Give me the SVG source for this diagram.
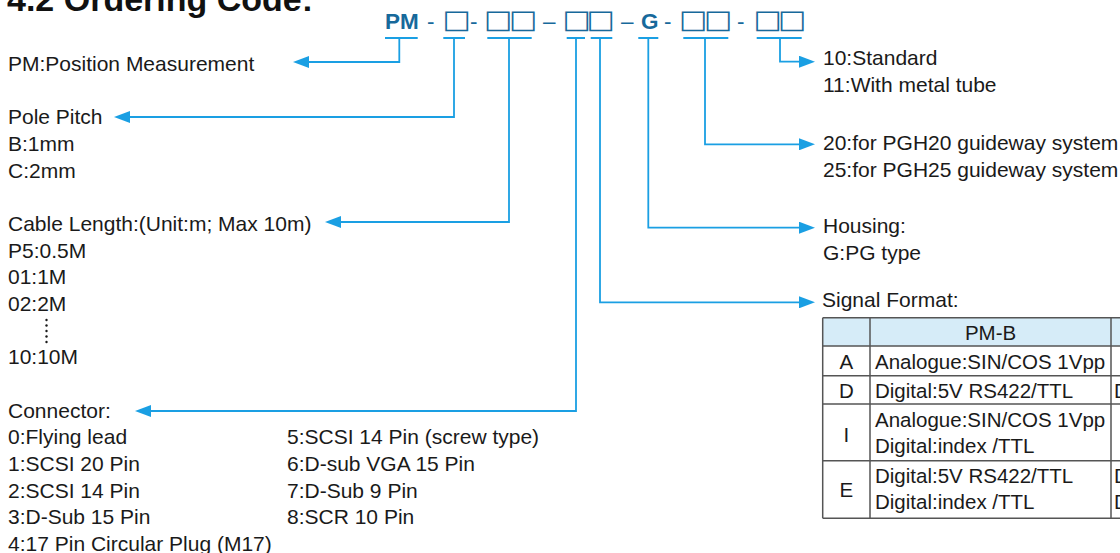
<svg xmlns="http://www.w3.org/2000/svg" width="1120" height="553" viewBox="0 0 1120 553">
<style>
.t{font-family:"Liberation Sans",Arial,sans-serif;font-size:21px;fill:#1a1a1a}
.tt{font-family:"Liberation Sans",Arial,sans-serif;font-size:20.5px;fill:#1a1a1a}
.code{font-family:"Liberation Sans",Arial,sans-serif;font-size:22.5px;font-weight:bold;fill:#17699b}
.dash{font-family:"Liberation Sans",Arial,sans-serif;font-size:22.5px;fill:#17699b}
.box{font-family:"DejaVu Sans",sans-serif;font-size:30px;font-weight:bold;fill:#17699b}
.c{fill:none;stroke:#1a9fe3;stroke-width:1.8;marker-end:url(#ah)}
.grid{stroke:#555;stroke-width:1.5;fill:none}
</style>
<defs>
<marker id="ah" markerUnits="userSpaceOnUse" markerWidth="16" markerHeight="12" refX="8" refY="6" orient="auto">
<path d="M0,0 L16,6 L0,12 Z" fill="#1a9fe3"/>
</marker>
</defs>
<rect width="1120" height="553" fill="#fff"/>
<g id="title">
<text x="7" y="11" font-family="Liberation Sans,Arial,sans-serif" font-size="34" font-weight="bold" fill="#111">4.2 Ordering Code:</text>
</g>
<g id="code">
<text class="code" x="385" y="29">PM</text>
<text class="dash" x="427" y="29">-</text>
<text class="box" transform="translate(0,28) scale(1,0.85)" x="456.5" text-anchor="middle">□</text>
<text class="dash" x="470" y="29">-</text>
<text class="box" transform="translate(0,28) scale(1,0.85)" x="498 523" text-anchor="middle">□□</text>
<text class="dash" x="543" y="29">–</text>
<text class="box" transform="translate(0,28) scale(1,0.85)" x="576.5 600.5" text-anchor="middle">□□</text>
<text class="dash" x="621" y="29">–</text>
<text class="code" x="641" y="29">G</text>
<text class="dash" x="664" y="29">-</text>
<text class="box" transform="translate(0,28) scale(1,0.85)" x="693 718" text-anchor="middle">□□</text>
<text class="dash" x="737" y="29">-</text>
<text class="box" transform="translate(0,28) scale(1,0.85)" x="767.5 792" text-anchor="middle">□□</text>
</g>
<g id="connectors">
<path class="c" d="M385,38 H417.7 M399.3,38 V62 H301"/>
<path class="c" d="M443.3,38 H465 M454,38 V117 H122"/>
<path class="c" d="M487.3,38 H531.7 M509,38 V222 H333"/>
<path class="c" d="M566.7,38 H585 M576,38 V411 H143"/>
<path class="c" d="M590.7,38 H612.3 M600,38 V302.3 H807"/>
<path class="c" d="M638.3,38 H658.3 M648.3,38 V227.7 H807"/>
<path class="c" d="M683.3,38 H728.3 M705,38 V144.3 H807"/>
<path class="c" d="M756.7,38 H801.7 M780,38 V61.7 H807"/>
</g>
<g id="pm">
<text class="t" x="8" y="71">PM:Position Measurement</text>
</g>
<g id="pole">
<text class="t" x="8" y="124.3">Pole Pitch</text>
<text class="t" x="8" y="151">B:1mm</text>
<text class="t" x="8" y="177.7">C:2mm</text>
</g>
<g id="cable">
<text class="t" x="8" y="231">Cable Length:(Unit:m; Max 10m)</text>
<text class="t" x="8" y="257.7">P5:0.5M</text>
<text class="t" x="8" y="284.3">01:1M</text>
<text class="t" x="8" y="311">02:2M</text>
<g fill="#1a1a1a"><circle cx="46.5" cy="320" r="1.2"/><circle cx="46.5" cy="325.5" r="1.2"/><circle cx="46.5" cy="331" r="1.2"/><circle cx="46.5" cy="336.5" r="1.2"/><circle cx="46.5" cy="342" r="1.2"/></g>
<text class="t" x="8" y="364.3">10:10M</text>
</g>
<g id="connector">
<text class="t" x="8" y="417.7">Connector:</text>
<text class="t" x="8" y="444.3">0:Flying lead</text>
<text class="t" x="8" y="471">1:SCSI 20 Pin</text>
<text class="t" x="8" y="497.7">2:SCSI 14 Pin</text>
<text class="t" x="8" y="524.3">3:D-Sub 15 Pin</text>
<text class="t" x="8" y="551">4:17 Pin Circular Plug (M17)</text>
<text class="t" x="287" y="444.3">5:SCSI 14 Pin (screw type)</text>
<text class="t" x="287" y="471">6:D-sub VGA 15 Pin</text>
<text class="t" x="287" y="497.7">7:D-Sub 9 Pin</text>
<text class="t" x="287" y="524.3">8:SCR 10 Pin</text>
</g>
<g id="tube">
<text class="t" x="823" y="65">10:Standard</text>
<text class="t" x="823" y="91.7">11:With metal tube</text>
</g>
<g id="guideway">
<text class="t" x="823" y="150">20:for PGH20 guideway system</text>
<text class="t" x="823" y="176.7">25:for PGH25 guideway system</text>
</g>
<g id="housing">
<text class="t" x="823" y="233">Housing:</text>
<text class="t" x="823" y="260">G:PG type</text>
</g>
<g id="signal">
<text class="t" x="822" y="306.7">Signal Format:</text>
<rect x="822.7" y="317.7" width="310" height="28.3" fill="#d6ecf8"/>
<path class="grid" d="M822.7,317.7 H1125 M822.7,346 H1125 M822.7,375.7 H1125 M822.7,404 H1125 M822.7,460.7 H1125 M822.7,518.3 H1125 M822.7,317.7 V518.3 M870,317.7 V518.3 M1111,317.7 V518.3"/>
<text class="tt" x="990.5" y="340" text-anchor="middle">PM-B</text>
<text class="tt" x="846.3" y="369.3" text-anchor="middle">A</text>
<text class="tt" x="875" y="369.3">Analogue:SIN/COS 1Vpp</text>
<text class="tt" x="846.3" y="398.3" text-anchor="middle">D</text>
<text class="tt" x="875" y="398.3">Digital:5V RS422/TTL</text>
<text class="tt" x="1114" y="398.3">D</text>
<text class="tt" x="846.3" y="441.7" text-anchor="middle">I</text>
<text class="tt" x="875" y="426.7">Analogue:SIN/COS 1Vpp</text>
<text class="tt" x="875" y="452.5">Digital:index /TTL</text>
<text class="tt" x="846.3" y="497.3" text-anchor="middle">E</text>
<text class="tt" x="875" y="483.3">Digital:5V RS422/TTL</text>
<text class="tt" x="875" y="509.3">Digital:index /TTL</text>
<text class="tt" x="1114" y="483.3">D</text>
<text class="tt" x="1114" y="509.3">D</text>
</g>
</svg>
